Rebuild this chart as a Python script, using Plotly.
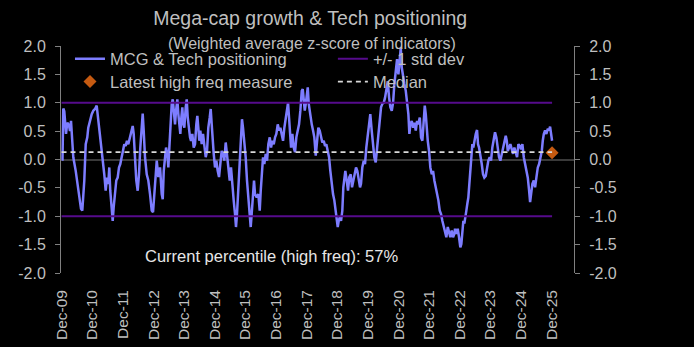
import datetime as dt
import plotly.graph_objects as go

# Weighted average z-score of MCG & Tech positioning indicators (decimal year, value)
dec_year = [
    2009.904, 2009.936, 2009.962, 2009.995, 2010.051, 2010.093, 2010.149, 2010.181, 2010.214, 2010.289,
    2010.368, 2010.453, 2010.541, 2010.583, 2010.649, 2010.695, 2010.747, 2010.779, 2010.835, 2010.891,
    2010.943, 2010.999, 2011.054, 2011.087, 2011.139, 2011.195, 2011.250, 2011.302, 2011.348, 2011.391,
    2011.433, 2011.466, 2011.498, 2011.544, 2011.577, 2011.610, 2011.652, 2011.695, 2011.740, 2011.783,
    2011.825, 2011.871, 2011.913, 2011.956, 2012.002, 2012.044, 2012.087, 2012.143, 2012.198, 2012.231,
    2012.263, 2012.306, 2012.348, 2012.394, 2012.436, 2012.479, 2012.525, 2012.557, 2012.590, 2012.632,
    2012.688, 2012.740, 2012.796, 2012.851, 2012.894, 2012.936, 2012.982,
    2013.015, 2013.067, 2013.123, 2013.178, 2013.211, 2013.244, 2013.286, 2013.319, 2013.361, 2013.394,
    2013.427, 2013.459, 2013.505, 2013.538, 2013.570, 2013.613, 2013.646, 2013.688, 2013.721, 2013.753,
    2013.786, 2013.819, 2013.851, 2013.884, 2013.917, 2013.962, 2013.995, 2014.028, 2014.061, 2014.103,
    2014.136, 2014.178, 2014.224, 2014.266, 2014.309, 2014.342, 2014.374, 2014.407, 2014.440, 2014.485,
    2014.528, 2014.570, 2014.616, 2014.659, 2014.701, 2014.747, 2014.779, 2014.812, 2014.845, 2014.878,
    2014.920, 2014.963, 2015.008, 2015.051, 2015.093, 2015.139, 2015.182, 2015.224, 2015.270, 2015.312,
    2015.355, 2015.401, 2015.443, 2015.485, 2015.531, 2015.574, 2015.606, 2015.639, 2015.682, 2015.727,
    2015.770, 2015.802, 2015.835, 2015.878, 2015.923, 2015.966, 2016.008, 2016.054, 2016.087, 2016.119,
    2016.162, 2016.195, 2016.227,
    2016.283, 2016.335, 2016.381, 2016.414, 2016.446, 2016.489, 2016.531, 2016.577, 2016.620, 2016.662,
    2016.708, 2016.750, 2016.793, 2016.838, 2016.881, 2016.923, 2016.969, 2017.012, 2017.054, 2017.100,
    2017.142, 2017.185, 2017.231, 2017.273, 2017.306, 2017.338, 2017.371, 2017.404, 2017.446, 2017.492,
    2017.534, 2017.577, 2017.623, 2017.665, 2017.708, 2017.754, 2017.786, 2017.819, 2017.852, 2017.884,
    2017.917, 2017.950, 2017.982, 2018.015, 2018.048, 2018.080, 2018.123, 2018.165, 2018.211, 2018.253,
    2018.296, 2018.341, 2018.384, 2018.426, 2018.472, 2018.515, 2018.557, 2018.603, 2018.646, 2018.688,
    2018.734, 2018.776, 2018.819, 2018.864, 2018.897, 2018.930, 2018.963, 2018.995, 2019.038, 2019.080,
    2019.113, 2019.146, 2019.178, 2019.224, 2019.266, 2019.309, 2019.355, 2019.397, 2019.440, 2019.485,
    2019.528, 2019.570, 2019.616, 2019.659,
    2019.691, 2019.734, 2019.780, 2019.822, 2019.864, 2019.910, 2019.953, 2019.995, 2020.041, 2020.083,
    2020.126, 2020.172, 2020.214, 2020.257, 2020.302, 2020.345, 2020.387, 2020.433, 2020.476, 2020.518,
    2020.564, 2020.606, 2020.649, 2020.695, 2020.737, 2020.780, 2020.825, 2020.868, 2020.911, 2020.956,
    2020.989, 2021.021, 2021.064, 2021.106, 2021.152, 2021.195, 2021.237, 2021.270, 2021.302, 2021.348,
    2021.391, 2021.433, 2021.479, 2021.521, 2021.564, 2021.610, 2021.652, 2021.695, 2021.740, 2021.773,
    2021.806, 2021.838, 2021.871, 2021.913, 2021.956, 2022.002, 2022.044, 2022.087, 2022.133, 2022.175,
    2022.218, 2022.263, 2022.306, 2022.348, 2022.394, 2022.436, 2022.479, 2022.525, 2022.567, 2022.609,
    2022.655, 2022.698, 2022.740,
    2022.763, 2022.805, 2022.851, 2022.894, 2022.936, 2022.969, 2023.002, 2023.035, 2023.067, 2023.100,
    2023.133, 2023.165, 2023.198, 2023.231, 2023.263, 2023.296, 2023.329, 2023.361, 2023.394, 2023.440,
    2023.482, 2023.515, 2023.548, 2023.590, 2023.636, 2023.678, 2023.721, 2023.767, 2023.809, 2023.852,
    2023.897, 2023.940, 2023.982, 2024.028, 2024.070, 2024.113, 2024.159, 2024.201, 2024.244, 2024.289,
    2024.332, 2024.374, 2024.420, 2024.453, 2024.486, 2024.528, 2024.571, 2024.616, 2024.659, 2024.701,
    2024.747, 2024.789, 2024.832, 2024.878, 2024.920, 2024.963, 2025.008, 2025.051, 2025.093, 2025.139,
    2025.182, 2025.215, 2025.247, 2025.290, 2025.335, 2025.378, 2025.420, 2025.466, 2025.509, 2025.551,
    2025.597, 2025.629, 2025.662, 2025.704, 2025.747, 2025.792, 2025.835, 2025.868, 2025.900, 2025.933,
]

mcg_tech = [
    0.00, 0.00, 0.90, 0.85, 0.45, 0.65, 0.60, 0.50, 0.68, 0.04,
    -0.20, -0.49, -0.87, -0.90, -0.37, 0.27, 0.39, 0.56, 0.71, 0.80,
    0.86, 0.89, 0.95, 0.80, 0.50, 0.33, 0.00, -0.26, -0.55, -0.32,
    -0.43, -0.14, -0.55, -0.90, -1.08, -0.84, -0.55, -0.37, -0.32, -0.14,
    -0.08, 0.04, 0.15, 0.27, 0.24, 0.33, 0.27, 0.39, 0.56, 0.59,
    0.45, -0.08, -0.37, -0.55, -0.26, 0.21, 0.68, 0.81, 0.50, 0.04,
    -0.26, -0.37, -0.61, -0.90, -0.93, -0.61, -0.20,
    -0.02, -0.31, -0.14, -0.61, -0.70, -0.20, 0.04, 0.21, 0.10, -0.14,
    0.21, 0.62, 0.98, 1.06, 0.80, 0.62, 0.86, 1.06, 0.80, 0.56,
    0.45, 0.74, 0.92, 0.62, 0.56, 0.92, 1.06, 0.74, 0.54, 0.39,
    0.33, 0.45, 0.21, 0.27, 0.62, 0.77, 0.56, 0.33, 0.51, 0.27,
    0.45, 0.21, 0.04, 0.15, 0.56, 0.74, 0.89, 0.62, 0.21, 0.10,
    -0.14, -0.02, -0.20, -0.31, -0.08, 0.15, 0.10, -0.02, 0.30, 0.04,
    -0.20, -0.37, -0.14, -0.49, -0.72, -0.96, -1.19, -0.96, -0.49, 0.10,
    0.51, 0.71, 0.56, 0.33, 0.04, -0.37, -0.72, -1.08, -1.19, -0.96,
    -0.55, -0.37, -0.61,
    -0.67, -0.61, -0.90, -0.55, -0.20, 0.04, -0.08, 0.10, -0.02, 0.27,
    0.39, 0.21, 0.33, 0.27, 0.39, 0.45, 0.62, 0.51, 0.56, 0.45,
    0.33, 0.56, 0.74, 0.95, 1.00, 0.74, 0.39, 0.21, 0.45, 0.21,
    0.13, 0.39, 0.51, 0.62, 0.86, 1.21, 1.24, 1.03, 0.86, 0.98,
    1.21, 1.27, 0.98, 0.86, 0.68, 0.62, 0.51, 0.39, 0.07, 0.39,
    0.56, 0.51, 0.39, 0.30, 0.33, 0.24, 0.27, 0.15, 0.04, -0.20,
    -0.49, -0.61, -0.72, -0.96, -1.08, -1.19, -1.08, -1.02, -1.08, -0.90,
    -0.49, -0.26, -0.20, -0.37, -0.55, -0.31, -0.26, -0.49, -0.37, -0.20,
    -0.14, -0.20, -0.37, -0.49,
    -0.43, -0.14, -0.02, -0.08, 0.21, 0.45, 0.62, 0.80, 0.51, 0.21,
    0.04, -0.05, 0.21, 0.51, 0.74, 0.92, 0.98, 1.00, 1.09, 1.21,
    1.38, 1.10, 0.92, 0.86, 1.00, 1.33, 1.62, 1.77, 1.50, 1.87,
    1.97, 1.62, 1.45, 1.33, 1.21, 1.03, 0.80, 0.45, 0.62, 0.68,
    0.56, 0.65, 0.51, 0.68, 0.62, 0.74, 0.39, 0.33, 0.68, 0.95,
    0.80, 0.51, 0.33, 0.15, -0.14, -0.26, -0.20, -0.37, -0.49, -0.55,
    -0.72, -0.90, -0.96, -1.08, -1.19, -1.25, -1.37, -1.19, -1.31, -1.37,
    -1.25, -1.37, -1.31,
    -1.22, -1.31, -1.22, -1.37, -1.55, -1.49, -1.19, -1.08, -1.13, -0.96,
    -0.90, -0.78, -0.67, -0.43, -0.14, 0.10, 0.27, 0.21, 0.33, 0.45,
    0.52, 0.27, 0.21, 0.10, -0.08, -0.26, -0.32, -0.29, -0.14, -0.02,
    0.04, -0.02, 0.21, 0.39, 0.48, 0.39, 0.21, 0.04, -0.02, 0.10,
    0.21, 0.27, 0.42, 0.33, 0.15, 0.21, 0.27, 0.18, 0.10, 0.21,
    0.10, 0.04, 0.27, 0.24, 0.18, 0.27, 0.04, -0.08, -0.14, -0.32,
    -0.55, -0.75, -0.61, -0.43, -0.37, -0.49, -0.32, -0.14, -0.08, 0.04,
    0.15, 0.33, 0.45, 0.51, 0.45, 0.54, 0.51, 0.58, 0.45, 0.33,
]

std_dev_band = 1.0          # +/- 1 standard deviation
median_level = 0.13         # long-run median z-score
latest_hf_year = 2025.933   # latest high frequency reading
latest_hf_value = 0.12
current_percentile = 57     # percentile of the high frequency reading
tick_years = list(range(2009, 2026))
y_ticks = [-2.0, -1.5, -1.0, -0.5, 0.0, 0.5, 1.0, 1.5, 2.0]


def to_date(t):
    """Convert a decimal year to a datetime."""
    y = int(t)
    start = dt.datetime(y, 1, 1)
    return start + (dt.datetime(y + 1, 1, 1) - start) * (t - y)


dates = [to_date(t) for t in dec_year]
first, last = dates[0], dates[-1]

FONT = "Liberation Sans, Arial, sans-serif"
GREY = "#bfbfbf"
AXIS = "#808080"

fig = go.Figure()

fig.add_trace(go.Scatter(
    x=dates, y=mcg_tech, mode="lines", name="MCG & Tech positioning",
    line=dict(color="#7d7dff", width=2.5), legend="legend", showlegend=True,
))
fig.add_trace(go.Scatter(
    x=[first, last, None, first, last],
    y=[std_dev_band, std_dev_band, None, -std_dev_band, -std_dev_band],
    mode="lines", name="+/- 1 std dev",
    line=dict(color="#560b8c", width=2), legend="legend2", showlegend=True,
))
fig.add_trace(go.Scatter(
    x=[to_date(latest_hf_year)], y=[latest_hf_value], mode="markers",
    name="Latest high freq measure",
    marker=dict(symbol="diamond", color="#c55a11", size=10),
    legend="legend3", showlegend=True,
))
fig.add_trace(go.Scatter(
    x=[first, last], y=[median_level, median_level], mode="lines", name="Median",
    line=dict(color="#d9d9d9", width=1.6, dash="5px,4px"),
    legend="legend4", yaxis="y2", showlegend=True,
))

y_axis_common = dict(
    range=[-2, 2], tickvals=y_ticks, ticktext=[f"{v:.1f}" for v in y_ticks],
    showgrid=False, showline=True, linecolor=AXIS, linewidth=1,
    ticks="outside", ticklen=5, tickcolor=AXIS, ticklabelstandoff=6,
    tickfont=dict(family=FONT, size=16, color=GREY), automargin=False,
)

legend_common = dict(
    yanchor="middle", xanchor="left", bgcolor="rgba(0,0,0,0)",
    font=dict(family=FONT, size=16.5, color=GREY), visible=True,
)

fig.update_layout(
    width=694, height=347,
    margin=dict(l=61, r=120, t=46, b=73.5),
    showlegend=True,
    paper_bgcolor="black", plot_bgcolor="black",
    font=dict(family=FONT, color=GREY),
    title=dict(
        text="Mega-cap growth & Tech positioning",
        x=0.447, xref="container", xanchor="center",
        y=1 - 18 / 347, yref="container", yanchor="middle",
        font=dict(family=FONT, size=19.5, color=GREY),
    ),
    xaxis=dict(
        type="date",
        range=[to_date(2009.887), to_date(2026.65)],
        tickvals=[dt.datetime(y, 12, 1) for y in tick_years],
        ticktext=[f"Dec-{y % 100:02d}" for y in tick_years],
        tickangle=-90, ticks="", showline=False, showgrid=False, zeroline=False,
        ticklabelstandoff=13, automargin=False,
        tickfont=dict(family=FONT, size=15.5, color=GREY),
    ),
    yaxis=dict(**y_axis_common, zeroline=True, zerolinecolor="#3a3a3a", zerolinewidth=1.5),
    yaxis2=dict(**y_axis_common, overlaying="y", side="right", anchor="x", zeroline=False),
    legend=dict(x=0.0175, y=0.943, **legend_common),
    legend2=dict(x=0.53, y=0.943, **legend_common),
    legend3=dict(x=0.0175, y=0.842, **legend_common),
    legend4=dict(x=0.53, y=0.842, **legend_common),
    annotations=[
        dict(
            text="(Weighted average z-score of indicators)",
            xref="paper", yref="paper", x=0.489, y=1.013,
            xanchor="center", yanchor="middle", showarrow=False,
            font=dict(family=FONT, size=16, color=GREY),
        ),
        dict(
            text=f"Current percentile (high freq): {current_percentile}%",
            xref="paper", yref="paper", x=0.411, y=0.077,
            xanchor="center", yanchor="middle", showarrow=False,
            font=dict(family=FONT, size=16.5, color="#e6e6e6"),
        ),
    ],
)

fig.write_html("out.html")
